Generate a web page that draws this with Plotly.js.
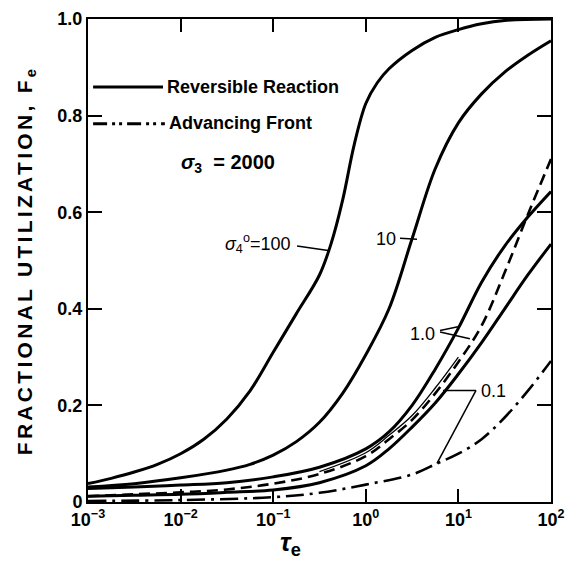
<!DOCTYPE html>
<html>
<head>
<meta charset="utf-8">
<script src="https://cdn.plot.ly/plotly-3.0.1.min.js"></script>
<style>
  html, body { margin: 0; padding: 0; background: #fff; }
  #chart { width: 568px; height: 561px; }
  .ytitle { letter-spacing: 3.3px; }
</style>
</head>
<body>
<div id="chart"></div>
<script>
// ---------- data ----------
// sigma4 = 100, reversible reaction
const tau100 = [0.001, 0.00178, 0.00316, 0.00562, 0.01, 0.0178, 0.0316, 0.0562, 0.1, 0.178, 0.316, 0.422, 0.562, 0.75, 1, 1.33, 1.78, 3.16, 5.62, 10, 17.8, 31.6, 100];
const F100   = [0.038, 0.049, 0.062, 0.078, 0.10, 0.13, 0.172, 0.23, 0.31, 0.39, 0.47, 0.535, 0.625, 0.74, 0.825, 0.868, 0.897, 0.935, 0.962, 0.978, 0.99, 0.997, 1.0];
// sigma4 = 10, reversible reaction
const tau10 = [0.001, 0.00316, 0.01, 0.0316, 0.0562, 0.1, 0.178, 0.316, 0.562, 1, 1.78, 3.16, 5.62, 10, 17.8, 31.6, 56.2, 100];
const F10   = [0.031, 0.038, 0.050, 0.066, 0.078, 0.097, 0.125, 0.165, 0.225, 0.305, 0.40, 0.545, 0.69, 0.785, 0.845, 0.89, 0.925, 0.955];
// sigma4 = 1.0, reversible reaction
const tau1 = [0.001, 0.00316, 0.01, 0.0316, 0.1, 0.316, 1, 1.78, 3.16, 5.62, 10, 17.8, 31.6, 56.2, 100];
const F1   = [0.028, 0.031, 0.035, 0.040, 0.052, 0.072, 0.11, 0.145, 0.20, 0.275, 0.36, 0.455, 0.53, 0.59, 0.643];
// sigma4 = 1.0, advancing front
const tau1a = [0.001, 0.00316, 0.01, 0.0316, 0.1, 0.316, 1, 1.78, 3.16, 5.62, 10, 17.8, 31.6, 56.2, 100];
const F1a   = [0.012, 0.016, 0.020, 0.026, 0.038, 0.058, 0.095, 0.13, 0.17, 0.225, 0.29, 0.365, 0.475, 0.595, 0.71];
// thin companion line beside the sigma4 = 1.0 advancing-front curve
const tau1t = [0.316, 1, 1.78, 3.16, 5.62, 10];
const F1t   = [0.063, 0.102, 0.138, 0.179, 0.236, 0.30];
// sigma4 = 0.1, reversible reaction
const tau01 = [0.001, 0.00316, 0.01, 0.0316, 0.1, 0.316, 1, 1.78, 3.16, 5.62, 10, 17.8, 31.6, 56.2, 100];
const F01   = [0.012, 0.014, 0.016, 0.020, 0.025, 0.040, 0.075, 0.11, 0.155, 0.205, 0.265, 0.33, 0.40, 0.47, 0.534];
// sigma4 = 0.1, advancing front
const tau01a = [0.001, 0.01, 0.1, 0.316, 1, 3.16, 5.9, 10, 17.8, 31.6, 56.2, 100];
const F01a   = [0.002, 0.004, 0.010, 0.019, 0.036, 0.057, 0.080, 0.10, 0.13, 0.175, 0.23, 0.292];

// curve labels (text, tau, F) and their leader lines
const labelText = ["<i>σ</i><sub>4</sub><sup>o</sup>=100", "10", "1.0", "0.1"];
const labelTau  = [0.159, 2.23, 5.9, 16.5];
const labelF    = [0.536, 0.544, 0.348, 0.229];
const labelAnchor = ["right", "right", "right", "left"];
const leaderTau = [[0.181, 0.41], [2.34, 3.57], [6.33, 9.9], [6.33, 13.3], [15.5, 6.82], [15.5, 5.87]];
const leaderF   = [[0.530, 0.52], [0.546, 0.544], [0.355, 0.363], [0.352, 0.338], [0.231, 0.231], [0.231, 0.080]];

// axis ticks
const xTickVals = [0.001, 0.01, 0.1, 1, 10, 100];
const xTickText = ["10<sup>−3</sup>", "10<sup>−2</sup>", "10<sup>−1</sup>", "10<sup>0</sup>", "10<sup>1</sup>", "10<sup>2</sup>"];
const yTickVals = [0, 0.2, 0.4, 0.6, 0.8, 1.0];
const yTickText = ["0", "0.2", "0.4", "0.6", "0.8", "1.0"];

// legend / titles
const legendText = ["Reversible Reaction", "Advancing Front"];
const paramText = "<i>σ</i><sub>3</sub>  = 2000";
const xTitleText = "<i>τ</i><sub>e</sub>";
const yTitleText = "FRACTIONAL UTILIZATION, F<sub>e</sub>";

// ---------- styles ----------
const FONT = "Liberation Sans, Arial, Helvetica, sans-serif";
const ADV_DASH = "14px,5px,3px,4px,3px,5px";
const thick = 3;

function curve(x, y, dash, width) {
  return {
    x: x, y: y, type: "scatter", mode: "lines",
    line: { color: "#000", width: width || thick, dash: dash || "solid", shape: "spline", smoothing: 1 },
    hoverinfo: "skip", showlegend: false
  };
}

const traces = [
  curve(tau100, F100),
  curve(tau10, F10),
  curve(tau1, F1),
  curve(tau1t, F1t, "solid", 1.3),
  curve(tau1a, F1a, "11px,6px", 2.6),
  curve(tau01, F01),
  curve(tau01a, F01a, "18px,6px,3px,6px", 2.6)
];
for (let i = 0; i < leaderTau.length; i++) {
  traces.push({
    x: leaderTau[i], y: leaderF[i], type: "scatter", mode: "lines",
    line: { color: "#000", width: 1.5 }, hoverinfo: "skip", showlegend: false
  });
}

const annotations = [];
for (let i = 0; i < labelText.length; i++) {
  annotations.push({
    x: Math.log10(labelTau[i]), y: labelF[i], xref: "x", yref: "y",
    text: labelText[i], showarrow: false, xanchor: labelAnchor[i], yanchor: "middle",
    font: { family: FONT, size: 18, color: "#000" }
  });
}
annotations.push({
  x: 0.166, y: 0.859, xref: "paper", yref: "paper", text: legendText[0],
  showarrow: false, xanchor: "left", yanchor: "middle",
  font: { family: FONT, size: 18, weight: "bold", color: "#000" }
});
annotations.push({
  x: 0.170, y: 0.785, xref: "paper", yref: "paper", text: legendText[1],
  showarrow: false, xanchor: "left", yanchor: "middle",
  font: { family: FONT, size: 18, weight: "bold", color: "#000" }
});
annotations.push({
  x: 0.197, y: 0.700, xref: "paper", yref: "paper", text: paramText,
  showarrow: false, xanchor: "left", yanchor: "middle",
  font: { family: FONT, size: 20, weight: "bold", color: "#000" }
});
annotations.push({
  x: 0.438, y: -0.086, xref: "paper", yref: "paper", text: xTitleText,
  showarrow: false, xanchor: "center", yanchor: "middle",
  font: { family: FONT, size: 26, weight: "bold", color: "#000" }
});

const shapes = [
  { type: "line", xref: "paper", yref: "paper", x0: 0.011, x1: 0.162, y0: 0.859, y1: 0.859,
    line: { color: "#000", width: 3 } },
  { type: "line", xref: "paper", yref: "paper", x0: 0.011, x1: 0.166, y0: 0.783, y1: 0.783,
    line: { color: "#000", width: 3, dash: ADV_DASH } }
];

const layout = {
  width: 568, height: 561,
  margin: { l: 88, r: 17, t: 19, b: 59 },
  paper_bgcolor: "#fff", plot_bgcolor: "#fff",
  showlegend: false,
  font: { family: FONT, color: "#000" },
  xaxis: {
    type: "log", range: [-3, 2], tickvals: xTickVals, ticktext: xTickText,
    ticklabeloverflow: "allow",
    showgrid: false, zeroline: false,
    showline: true, linewidth: 2, linecolor: "#000", mirror: "ticks",
    ticks: "inside", ticklen: 13, tickwidth: 2, tickcolor: "#000",
    tickfont: { family: FONT, size: 18, weight: "bold", color: "#000" }
  },
  yaxis: {
    range: [0, 1], tickvals: yTickVals, ticktext: yTickText,
    showgrid: false, zeroline: false,
    showline: true, linewidth: 2, linecolor: "#000", mirror: "ticks",
    ticks: "inside", ticklen: 14, tickwidth: 2, tickcolor: "#000",
    tickfont: { family: FONT, size: 18, weight: "bold", color: "#000" },
    title: { text: yTitleText, font: { family: FONT, size: 21, weight: "bold", color: "#000" }, standoff: 19 }
  },
  annotations: annotations,
  shapes: shapes
};

Plotly.newPlot("chart", traces, layout, { staticPlot: true, displayModeBar: false });
</script>
</body>
</html>
